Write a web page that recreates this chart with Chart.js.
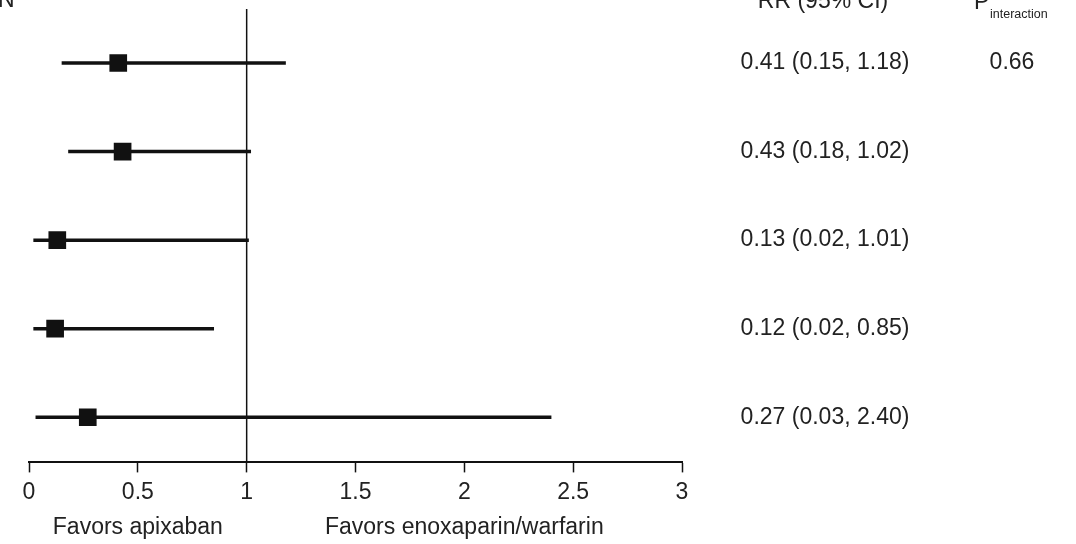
<!DOCTYPE html>
<html lang="en">
<head>
<meta charset="UTF-8">
<title>Forest plot</title>
<script src="https://cdn.jsdelivr.net/npm/chart.js"></script>
<style>
  html, body { margin: 0; padding: 0; background: #fff; }
  canvas { display: block; }
</style>
</head>
<body>
<canvas id="forest" width="1076" height="544"></canvas>
<script>
// one row per subgroup, top to bottom
const rows = [1, 2, 3, 4, 5];
const rr = [0.41, 0.43, 0.13, 0.12, 0.27];
const ciLow = [0.15, 0.18, 0.02, 0.02, 0.03];
const ciHigh = [1.18, 1.02, 1.01, 0.85, 2.40];
const pInteraction = ['0.66', '', '', '', ''];
const xTicks = [0, 0.5, 1, 1.5, 2, 2.5, 3];

const ink = '#111';
const font = '"Liberation Sans", Arial, Helvetica, sans-serif';

const datasets = [];
datasets.push({
    label: 'RR',
    data: rows.map((r, i) => ({ x: rr[i], y: r })),
    pointStyle: 'rect',
    pointRadius: 12.5,
    backgroundColor: ink,
    borderColor: ink,
    borderWidth: 0
});
rows.forEach((r, i) => {
    datasets.push({
        label: 'CI ' + r,
        data: [{ x: ciLow[i], y: r }, { x: ciHigh[i], y: r }],
        showLine: true,
        borderColor: ink,
        borderWidth: 3.5,
        pointRadius: 0
    });
});
// line of no effect
datasets.push({
    label: 'ref',
    data: [{ x: 1, y: 0.39 }, { x: 1, y: 5.51 }],
    showLine: true,
    borderColor: ink,
    borderWidth: 1.5,
    pointRadius: 0
});

const textPlugin = {
    id: 'forestText',
    afterDraw(chart) {
        const ctx = chart.ctx;
        const y = chart.scales.y;
        ctx.save();
        ctx.fillStyle = '#222';
        ctx.textBaseline = 'middle';
        ctx.textAlign = 'center';
        ctx.font = '23px ' + font;
        rows.forEach((r, i) => {
            const py = y.getPixelForValue(r);
            const txt = rr[i].toFixed(2) + ' (' + ciLow[i].toFixed(2) + ', ' + ciHigh[i].toFixed(2) + ')';
            ctx.fillText(txt, 825, py);
            if (pInteraction[i]) ctx.fillText(pInteraction[i], 1012, py);
        });

        // column headers (cut off at the top edge)
        ctx.textBaseline = 'alphabetic';
        ctx.fillText('RR (95% CI)', 823, 8);
        ctx.textAlign = 'left';
        ctx.fillText('P', 974, 9);
        ctx.fillText('N', -2, 7);
        ctx.font = '12.5px ' + font;
        ctx.fillText('interaction', 990, 18);

        // direction labels
        ctx.textAlign = 'center';
        ctx.textBaseline = 'middle';
        ctx.font = '23px ' + font;
        const x = chart.scales.x;
        ctx.fillText('Favors apixaban', x.getPixelForValue(0.5), 528);
        ctx.fillText('Favors enoxaparin/warfarin', x.getPixelForValue(2.0), 528);
        ctx.restore();
    }
};

new Chart(document.getElementById('forest'), {
    type: 'scatter',
    data: { datasets: datasets },
    options: {
        responsive: false,
        animation: false,
        layout: { autoPadding: false, padding: { top: 9, left: 29, right: 394, bottom: 32 } },
        scales: {
            x: {
                type: 'linear',
                min: 0,
                max: 3,
                afterBuildTicks: scale => { scale.ticks = xTicks.map(v => ({ value: v })); },
                grid: {
                    drawOnChartArea: false,
                    drawTicks: true,
                    tickLength: 10,
                    tickWidth: 1.5,
                    tickColor: ink
                },
                border: { display: true, color: ink, width: 2 },
                ticks: {
                    padding: 6,
                    color: '#222',
                    font: { family: font, size: 23 },
                    callback: v => String(v)
                }
            },
            y: {
                type: 'linear',
                display: false,
                reverse: true,
                min: 0.39,
                max: 5.51
            }
        },
        plugins: {
            legend: { display: false },
            tooltip: { enabled: false }
        }
    },
    plugins: [textPlugin]
});
</script>
</body>
</html>
